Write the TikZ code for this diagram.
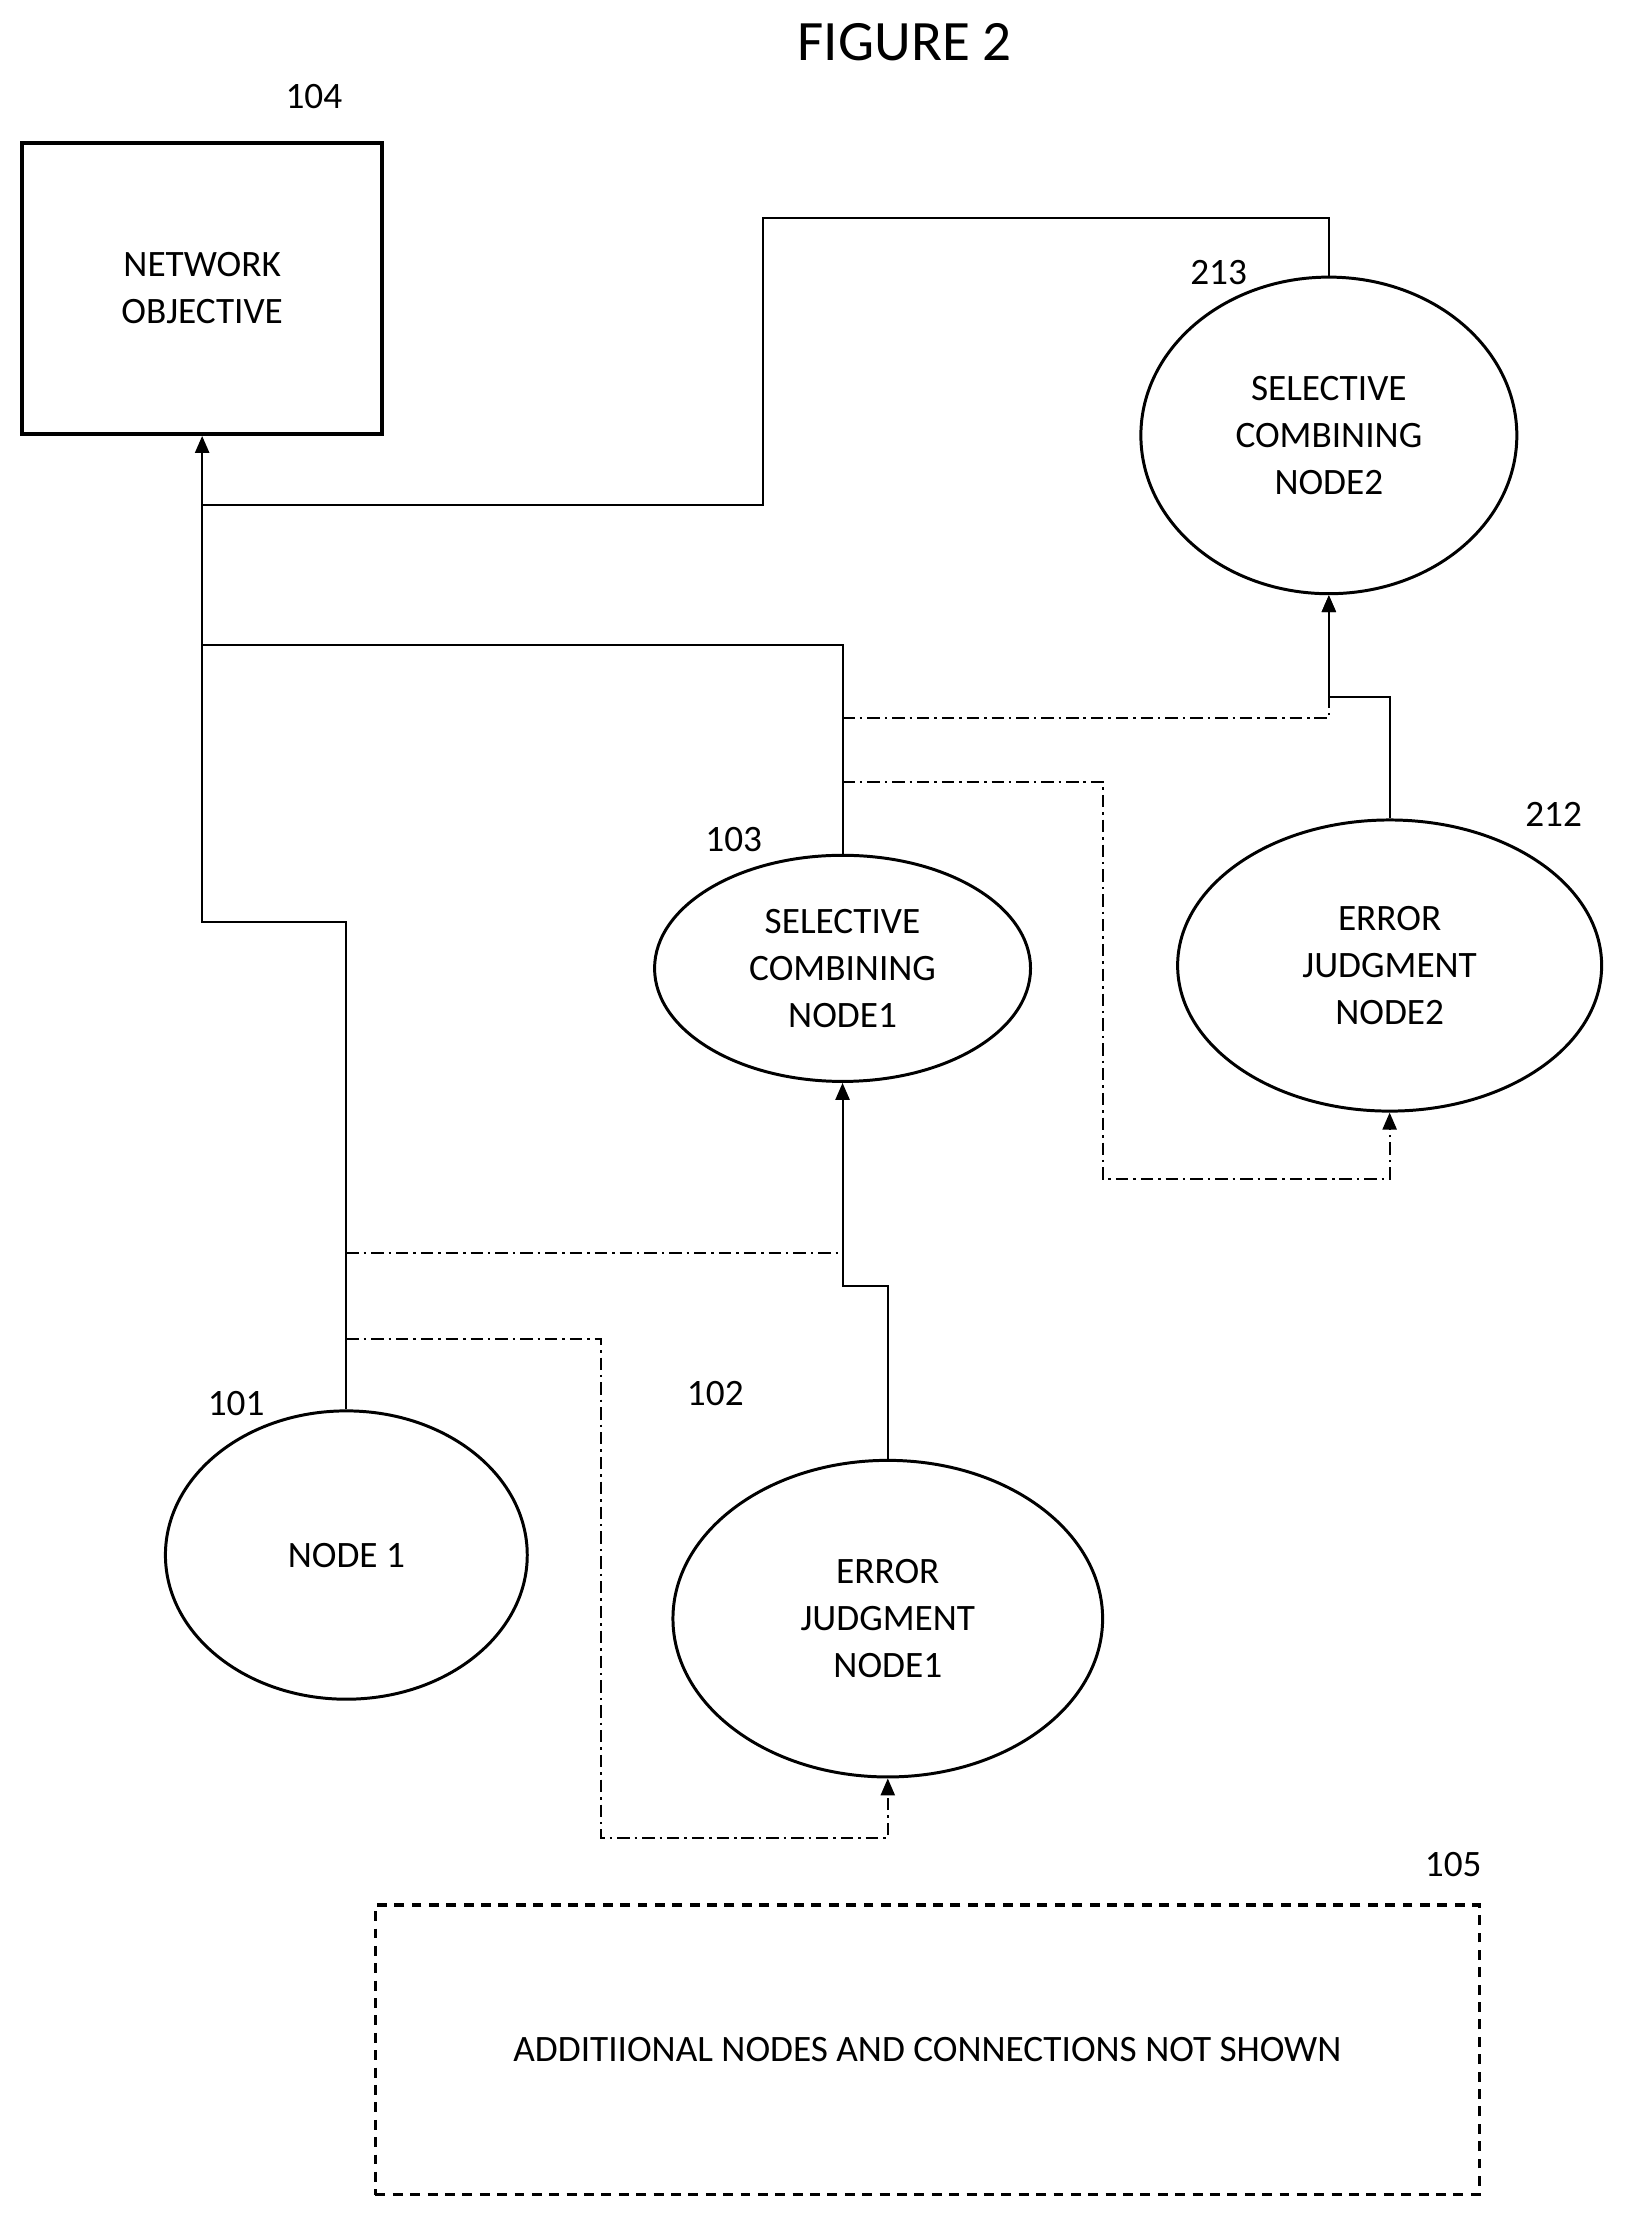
\documentclass[tikz,border=0pt]{standalone}
\usepackage{fontspec}
\setmainfont{Carlito}
\usetikzlibrary{arrows.meta, positioning, shapes.geometric, calc}

\begin{document}
\begin{tikzpicture}[
    x=0.02cm, y=-0.02cm,
    txt/.style={font=\fontsize{15}{19}\selectfont, align=center},
    numlabel/.style={font=\fontsize{15}{19}\selectfont},
    unit/.style={ellipse, draw, line width=1.2pt, txt, inner sep=0pt},
    link/.style={line width=0.8pt},
    dlink/.style={line width=0.8pt, dash pattern=on 5pt off 2pt on 1pt off 2pt},
    tip/.style={-{Triangle[length=2.4mm, width=2mm]}}
]
\useasboundingbox (0,0) rectangle (1160,1581);

\node[font=\fontsize{23}{28}\selectfont] (title) at (640,30) {FIGURE 2};

% Objective box
\node[draw, line width=1.6pt, txt, minimum width=5.1cm, minimum height=4.12cm] (obj) at (143,204) {NETWORK\\OBJECTIVE};
\node[numlabel] (l104) at (222,68) {104};

% Nodes
\node[unit, minimum width=5.32cm, minimum height=4.48cm] (sc2) at (940,308) {SELECTIVE\\COMBINING\\NODE2};
\node[numlabel] (l213) at (862,193) {213};
\node[unit, minimum width=5.32cm, minimum height=3.2cm] (sc1) at (596,685) {SELECTIVE\\COMBINING\\NODE1};
\node[numlabel] (l103) at (519,594) {103};
\node[unit, minimum width=6cm, minimum height=4.12cm] (ej2) at (983,683) {ERROR\\JUDGMENT\\NODE2};
\node[numlabel] (l212) at (1099,576) {212};
\node[unit, minimum width=5.12cm, minimum height=4.08cm] (n1) at (245,1100) {NODE 1};
\node[numlabel] (l101) at (167,993) {101};
\node[unit, minimum width=6.08cm, minimum height=4.48cm] (ej1) at (628,1145) {ERROR\\JUDGMENT\\NODE1};
\node[numlabel] (l102) at (506,986) {102};

% Additional nodes
\node[draw, line width=1.4pt, dash pattern=on 4pt off 3pt, txt, minimum width=15.62cm, minimum height=4.1cm] (more) at (656,1450) {ADDITIIONAL NODES AND CONNECTIONS NOT SHOWN};
\node[numlabel] (l105) at (1028,1319) {105};

% Solid connectors
\draw[link, tip] (sc2.north) |- (540,154) |- (143,357) -- (obj.south);
\draw[link] (sc1.north) |- (143,456);
\draw[link] (n1.north) |- (143,652) -- (143,357);
\draw[link, tip] (ej2.north) |- (940,493) -- (sc2.south);
\draw[link, tip] (ej1.north) |- (596,910) -- (sc1.south);

% Dash-dot connectors
\draw[dlink, tip] (596,508) -| (sc2.south);
\draw[dlink, tip] (596,553) -| (780,834) -| (ej2.south);
\draw[dlink] (245,886) -- (596,886);
\draw[dlink, tip] (245,947) -| (425,1300) -| (ej1.south);

\end{tikzpicture}
\end{document}
